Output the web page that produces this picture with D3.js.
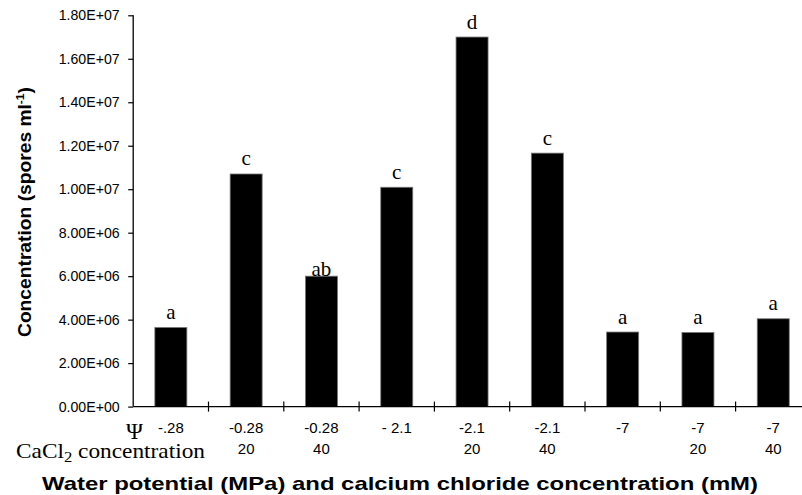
<!DOCTYPE html>
<html>
<head>
<meta charset="utf-8">
<script src="https://cdn.jsdelivr.net/npm/d3@7"></script>
<style>
    body { margin: 0; background: #fff; }
    svg { display: block; }
    .sans { font-family: "Liberation Sans", Arial, Helvetica, sans-serif; }
    .serif { font-family: "Liberation Serif", "Times New Roman", serif; }
</style>
</head>
<body>
<div id="chart"></div>
<script>
// data
var potentials = ["-.28", "-0.28", "-0.28", "- 2.1", "-2.1", "-2.1", "-7", "-7", "-7"];
var cacl2 = ["", "20", "40", "", "20", "40", "", "20", "40"];
var spores = [3.64e6, 1.07e7, 6.0e6, 1.009e7, 1.70e7, 1.166e7, 3.43e6, 3.41e6, 4.04e6];
var letters = ["a", "c", "ab", "c", "d", "c", "a", "a", "a"];
var yTicks = [0, 2e6, 4e6, 6e6, 8e6, 1e7, 1.2e7, 1.4e7, 1.6e7, 1.8e7];

var width = 802, height = 495;
var margin = { top: 15.3, left: 133.2 };
var bandW = 75.3;
var plotW = bandW * potentials.length;
var plotH = 406.6 - margin.top;

var svg = d3.select("#chart")
    .append("svg")
    .attr("width", width)
    .attr("height", height);

var g = svg.append("g")
    .attr("transform", "translate(" + margin.left + "," + margin.top + ")");

var idx = d3.range(spores.length);

var x = d3.scaleBand()
    .domain(idx)
    .range([0, plotW])
    .paddingInner(0.575)
    .paddingOuter(0.2875);

var y = d3.scaleLinear()
    .domain([0, 1.8e7])
    .range([plotH, 0]);

// y axis, excel style labels
var fmt = function (v) {
    var s = v.toExponential(2).toUpperCase();
    return s.replace(/E([+-])(\d)$/, "E$10$2");
};

var yAxis = g.append("g")
    .attr("class", "sans")
    .call(d3.axisLeft(y).tickValues(yTicks).tickFormat(fmt).tickSize(5).tickPadding(8.5));
yAxis.select(".domain").attr("stroke", "#000").attr("stroke-width", 1.3).attr("d", "M0," + plotH + "V0");
yAxis.selectAll(".tick line").attr("stroke", "#000").attr("stroke-width", 1.2);
yAxis.selectAll("text")
    .attr("font-size", 14.5)
    .attr("fill", "#000")
    .attr("textLength", 61)
    .attr("lengthAdjust", "spacingAndGlyphs");

// bars
g.selectAll(".bar")
    .data(idx)
    .enter()
    .append("rect")
    .attr("class", "bar")
    .attr("x", function (i) { return x(i); })
    .attr("y", function (i) { return y(spores[i]); })
    .attr("width", x.bandwidth())
    .attr("height", function (i) { return plotH - y(spores[i]); })
    .attr("fill", "#000")
    .attr("stroke", "#777")
    .attr("stroke-width", 0.8);

// significance letters
g.selectAll(".letter")
    .data(idx)
    .enter()
    .append("text")
    .attr("class", "letter serif")
    .attr("x", function (i) { return x(i) + x.bandwidth() / 2; })
    .attr("y", function (i) { return y(spores[i]) - (letters[i] === "ab" ? 0 : 8.5); })
    .attr("text-anchor", "middle")
    .attr("font-size", 21)
    .text(function (i) { return letters[i]; });

// x axis with ticks at band edges, crossing the line
var xg = g.append("g").attr("transform", "translate(0," + plotH + ")");
xg.append("line")
    .attr("x1", 0).attr("x2", plotW)
    .attr("stroke", "#000").attr("stroke-width", 1.3);
xg.selectAll(".xtick")
    .data(d3.range(1, spores.length))
    .enter()
    .append("line")
    .attr("class", "xtick")
    .attr("x1", function (i) { return i * bandW; })
    .attr("x2", function (i) { return i * bandW; })
    .attr("y1", -5).attr("y2", 5)
    .attr("stroke", "#000").attr("stroke-width", 1.2);

// category labels, two rows
xg.selectAll(".pot")
    .data(idx)
    .enter()
    .append("text")
    .attr("class", "pot sans")
    .attr("x", function (i) { return x(i) + x.bandwidth() / 2; })
    .attr("y", 26.5)
    .attr("text-anchor", "middle")
    .attr("font-size", 15)
    .text(function (i) { return potentials[i]; });

xg.selectAll(".cacl")
    .data(idx)
    .enter()
    .append("text")
    .attr("class", "cacl sans")
    .attr("x", function (i) { return x(i) + x.bandwidth() / 2; })
    .attr("y", 47.5)
    .attr("text-anchor", "middle")
    .attr("font-size", 15)
    .text(function (i) { return cacl2[i]; });

// row captions
svg.append("text")
    .attr("class", "serif")
    .attr("x", 134.5)
    .attr("y", 438.5)
    .attr("text-anchor", "middle")
    .attr("font-size", 23)
    .text("\u03A8");

var cap = svg.append("text")
    .attr("class", "serif")
    .attr("x", 16)
    .attr("y", 457.5)
    .attr("font-size", 21)
    .attr("textLength", 189)
    .attr("lengthAdjust", "spacingAndGlyphs");
cap.append("tspan").text("CaCl");
cap.append("tspan").attr("font-size", 15).attr("dy", 4).text("2");
cap.append("tspan").attr("dy", -4).text(" concentration");

// axis titles
svg.append("text")
    .attr("class", "sans")
    .attr("x", 42)
    .attr("y", 489.5)
    .attr("font-size", 18.5)
    .attr("font-weight", "bold")
    .attr("textLength", 716)
    .attr("lengthAdjust", "spacingAndGlyphs")
    .text("Water potential (MPa) and calcium chloride concentration (mM)");

var yt = svg.append("text")
    .attr("class", "sans")
    .attr("transform", "translate(31,337) rotate(-90)")
    .attr("font-size", 17.5)
    .attr("font-weight", "bold")
    .attr("textLength", 250)
    .attr("lengthAdjust", "spacingAndGlyphs");
yt.append("tspan").text("Concentration (spores ml");
yt.append("tspan").attr("font-size", 11).attr("dy", -7).text("-1");
yt.append("tspan").attr("dy", 7).text(")");
</script>
</body>
</html>
